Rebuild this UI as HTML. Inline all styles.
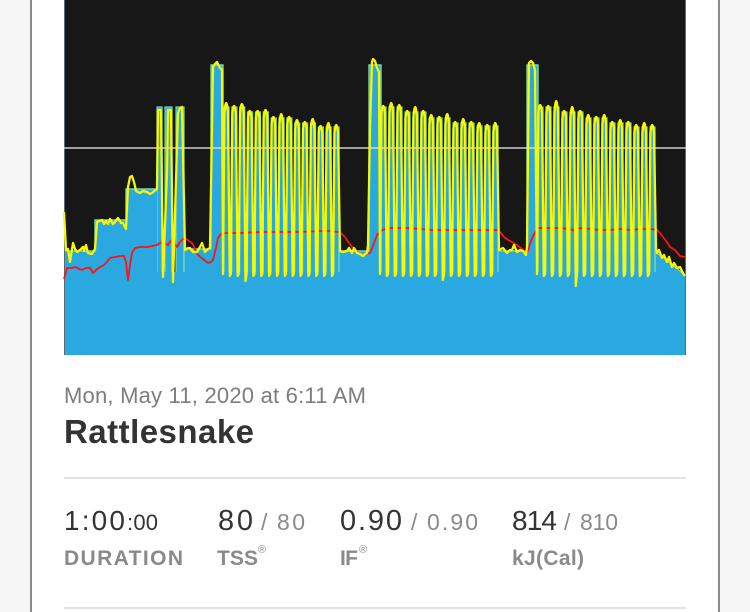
<!DOCTYPE html>
<html>
<head>
<meta charset="utf-8">
<style>
html,body{margin:0;padding:0;background:#f6f6f6;}
body{width:750px;height:612px;overflow:hidden;}
svg{display:block;}
text{font-family:"Liberation Sans",Arial,sans-serif;}
</style>
</head>
<body>
<svg width="750" height="612" viewBox="0 0 750 612" xmlns="http://www.w3.org/2000/svg">
<rect x="0" y="0" width="750" height="612" fill="#f6f6f6"/>
<rect x="32" y="0" width="686" height="612" fill="#ffffff"/>
<rect x="30" y="0" width="2" height="612" fill="#8a8a8a"/>
<rect x="718" y="0" width="2" height="612" fill="#8a8a8a"/>
<rect x="64" y="0" width="622" height="355" fill="#171717"/>
<g fill="#2aa8e0" stroke="#7ad6a6" stroke-width="1.2">
<rect x="157" y="107" width="5" height="178"/>
<rect x="165" y="107" width="7" height="178"/>
<rect x="176" y="107" width="8" height="178"/>
<rect x="224" y="107" width="5" height="178"/>
<rect x="231.86" y="107" width="5" height="178"/>
<rect x="239.72" y="107" width="5" height="178"/>
<rect x="247.58" y="112" width="5" height="173"/>
<rect x="255.44" y="112" width="5" height="173"/>
<rect x="263.3" y="112" width="5" height="173"/>
<rect x="271.16" y="118" width="5" height="167"/>
<rect x="279.02" y="118" width="5" height="167"/>
<rect x="286.88" y="118" width="5" height="167"/>
<rect x="294.74" y="123" width="5" height="162"/>
<rect x="302.6" y="123" width="5" height="162"/>
<rect x="310.46" y="123" width="5" height="162"/>
<rect x="318.32" y="127" width="5" height="158"/>
<rect x="326.18" y="127" width="5" height="158"/>
<rect x="334.04" y="127" width="5" height="158"/>
<rect x="381" y="107" width="5" height="178"/>
<rect x="389" y="107" width="5" height="178"/>
<rect x="397" y="107" width="5" height="178"/>
<rect x="405" y="112" width="5" height="173"/>
<rect x="413" y="112" width="5" height="173"/>
<rect x="421" y="112" width="5" height="173"/>
<rect x="429" y="118" width="5" height="167"/>
<rect x="437" y="118" width="5" height="167"/>
<rect x="445" y="118" width="5" height="167"/>
<rect x="453" y="123" width="5" height="162"/>
<rect x="461" y="123" width="5" height="162"/>
<rect x="469" y="123" width="5" height="162"/>
<rect x="477" y="126" width="5" height="159"/>
<rect x="485" y="126" width="5" height="159"/>
<rect x="493" y="126" width="5" height="159"/>
<rect x="538" y="107" width="5" height="178"/>
<rect x="546" y="107" width="5" height="178"/>
<rect x="554" y="107" width="5" height="178"/>
<rect x="562" y="112" width="5" height="173"/>
<rect x="570" y="112" width="5" height="173"/>
<rect x="578" y="112" width="5" height="173"/>
<rect x="586" y="118" width="5" height="167"/>
<rect x="594" y="118" width="5" height="167"/>
<rect x="602" y="118" width="5" height="167"/>
<rect x="610" y="123" width="5" height="162"/>
<rect x="618" y="123" width="5" height="162"/>
<rect x="626" y="123" width="5" height="162"/>
<rect x="634" y="127" width="5" height="158"/>
<rect x="642" y="127" width="5" height="158"/>
<rect x="650" y="127" width="5" height="158"/>
</g>
<path fill="#2aa8e0" d="M64,355 L64,251 L95,251 L95,220 L126,220 L126,189 L157,189 L157,272 L184,272 L184,249 L211,249 L211,65 L223,65 L223,272 L339,272 L339,251 L369,251 L369,65 L381,65 L381,272 L498,272 L498,251 L527,251 L527,65 L538,65 L538,272 L655,272 L655,252 L660,255 L665,259 L670,263 L675,267 L680,271 L686,277 L686,355 Z"/>
<path fill="none" stroke="#7ad6a6" stroke-width="1.4" d="M64,251 H95 V220 H126 V189 H157 M184,272 V249 H211 V65 H223 V272 M339,272 V251 H369 V65 H381 V272 M498,272 V251 H527 V65 H538 V272 M655,272 V252 L660,255 L665,259 L670,263 L675,267 L680,271 L686,277"/>
<line x1="64.5" y1="0" x2="64.5" y2="355" stroke="#5e6a70" stroke-width="1"/>
<line x1="685.5" y1="0" x2="685.5" y2="355" stroke="#5e6a70" stroke-width="1"/>
<line x1="64" y1="148" x2="686" y2="148" stroke="#e2e2e2" stroke-width="1.6" opacity="0.9"/>
<path fill="none" stroke="#ff1212" stroke-width="1.8" stroke-linejoin="round" d="M64,279 L67,268 L72,268 L76,267 L79,269 L82,270 L86,268 L90,268 L93,273 L97,269 L100,267 L104,265 L107,262 L110,258 L115,257 L120,256 L124,256 L126,262 L128,280 L130,265 L132,253 L135,248 L140,247 L147,247 L152,246 L157,245 L160,243 L163,242 L166,244 L168,245 L170,242 L172,240 L175,244 L177,247 L180,242 L183,239 L185,238 L189,241 L192,243 L195,249 L198,255 L203,259 L208,263 L211,262 L213,260 L216,248 L218,238 L221,234 L223,233 L240,233 L260,232 L280,232 L300,232 L320,231 L330,231 L339,232 L342,234 L345,237 L349,243 L353,248 L357,252 L362,255 L366,254 L370,253 L373,246 L377,235 L382,230 L386,229 L390,228 L410,228 L420,229 L430,230 L498,230 L501,233 L504,237 L508,240 L512,242 L517,245 L522,249 L527,253 L530,244 L533,236 L536,231 L538,228 L560,228 L570,229 L575,231 L578,228 L590,229 L600,230 L610,230 L620,229 L630,230 L640,229 L650,229 L657,230 L660,233 L663,237 L667,242 L670,247 L675,250 L680,256 L685,257"/>
<path fill="none" stroke="#f7f700" stroke-width="2.3" stroke-linejoin="round" d="M64,212 L66,250 L68,249 L70,262 L73,243 L75,249 L77,252 L80,250 L83,247 L84,251 L86,245 L88,253 L92,254 L95,249 L97,222 L102,220 L104,224 L106,221 L108,224 L110,219 L113,224 L115,222 L118,218 L121,223 L123,223 L126,229 L128,187 L130,177 L132,176 L134,182 L136,191 L140,193 L143,191 L147,192 L150,194 L152,193 L157,189 L158,110 L161,110 L163,277 L167,173 L168,110 L171,110 L173,282 L178,113 L180,108 L182,107 L185,250 L188,248 L190,248 L193,252 L197,252 L200,247 L202,243 L205,252 L208,249 L210,248 L213,67 L215,64 L217,62 L220,68 L222,70 L223,274 l1.4,-161 q1.8,-20 3.6,0 l1.8,163 l1.06,-2 l1.4,-161 q1.8,-14 3.6,0 l1.8,163 l1.06,-2 l1.4,-161 q1.8,-18 3.6,0 l1.8,168 l1.06,-7 l1.4,-156 q1.8,-14 3.6,0 l1.8,158 l1.06,-2 l1.4,-156 q1.8,-14 3.6,0 l1.8,158 l1.06,-2 l1.4,-156 q1.8,-16 3.6,0 l1.8,158 l1.06,-2 l1.4,-150 q1.8,-14 3.6,0 l1.8,152 l1.06,-2 l1.4,-150 q1.8,-20 3.6,0 l1.8,152 l1.06,-2 l1.4,-150 q1.8,-14 3.6,0 l1.8,152 l1.06,-2 l1.4,-145 q1.8,-18 3.6,0 l1.8,147 l1.06,-2 l1.4,-145 q1.8,-14 3.6,0 l1.8,147 l1.06,-2 l1.4,-145 q1.8,-20 3.6,0 l1.8,147 l1.06,-2 l1.4,-141 q1.8,-14 3.6,0 l1.8,143 l1.06,-2 l1.4,-141 q1.8,-20 3.6,0 l1.8,143 l1.06,-2 l1.4,-141 q1.8,-16 3.6,0 L340,251 L343,252 L347,251 L349,248 L352,253 L354,248 L357,253 L360,254 L363,256 L365,254 L367,253 L368,245 L370,127 L372,62 L373,59 L375,61 L377,68 L379,72 L380,274 l1.4,-161 q1.8,-14 3.6,0 l1.8,163 l1.2,-2 l1.4,-161 q1.8,-20 3.6,0 l1.8,163 l1.2,-2 l1.4,-161 q1.8,-16 3.6,0 l1.8,163 l1.2,-2 l1.4,-156 q1.8,-14 3.6,0 l1.8,158 l1.2,-2 l1.4,-156 q1.8,-22 3.6,0 l1.8,158 l1.2,-2 l1.4,-156 q1.8,-14 3.6,0 l1.8,158 l1.2,-2 l1.4,-150 q1.8,-18 3.6,0 l1.8,152 l1.2,-2 l1.4,-150 q1.8,-14 3.6,0 l1.8,156 l1.2,-6 l1.4,-150 q1.8,-20 3.6,0 l1.8,152 l1.2,-2 l1.4,-145 q1.8,-14 3.6,0 l1.8,147 l1.2,-2 l1.4,-145 q1.8,-20 3.6,0 l1.8,147 l1.2,-2 l1.4,-145 q1.8,-14 3.6,0 l1.8,147 l1.2,-2 l1.4,-142 q1.8,-18 3.6,0 l1.8,144 l1.2,-2 l1.4,-142 q1.8,-14 3.6,0 l1.8,144 l1.2,-2 l1.4,-142 q1.8,-18 3.6,0 L499,250 L503,248 L507,253 L510,250 L512,250 L514,245 L517,252 L520,250 L523,251 L526,255 L527,247 L529,63 L531,61 L533,63 L535,70 L537,274 l1.4,-161 q1.8,-16 3.6,0 l1.8,163 l1.2,-2 l1.4,-161 q1.8,-14 3.6,0 l1.8,163 l1.2,-2 l1.4,-161 q1.8,-24 3.6,0 l1.8,163 l1.2,-2 l1.4,-156 q1.8,-14 3.6,0 l1.8,158 l1.2,-2 l1.4,-156 q1.8,-22 3.6,0 l1.8,168 l1.2,-12 l1.4,-156 q1.8,-14 3.6,0 l1.8,158 l1.2,-2 l1.4,-150 q1.8,-18 3.6,0 l1.8,152 l1.2,-2 l1.4,-150 q1.8,-14 3.6,0 l1.8,152 l1.2,-2 l1.4,-150 q1.8,-18 3.6,0 l1.8,152 l1.2,-2 l1.4,-145 q1.8,-14 3.6,0 l1.8,147 l1.2,-2 l1.4,-145 q1.8,-18 3.6,0 l1.8,147 l1.2,-2 l1.4,-145 q1.8,-14 3.6,0 l1.8,147 l1.2,-2 l1.4,-141 q1.8,-16 3.6,0 l1.8,143 l1.2,-2 l1.4,-141 q1.8,-20 3.6,0 l1.8,143 l1.2,-2 l1.4,-141 q1.8,-16 3.6,0 L656,248 L657,253 L659,250 L662,258 L664,255 L667,262 L669,257 L672,267 L674,263 L677,268 L680,267 L683,273 L685,276"/>
<text x="64" y="403" font-size="22" fill="#7d7d7d" textLength="302" lengthAdjust="spacing">Mon, May 11, 2020 at 6:11 AM</text>
<text x="64" y="443" font-size="33" font-weight="bold" fill="#333333" textLength="190" lengthAdjust="spacing">Rattlesnake</text>
<rect x="64" y="477" width="622" height="2" fill="#e2e2e2"/>
<text x="64" y="530" font-size="28" fill="#333333" textLength="61" lengthAdjust="spacing">1:00</text>
<text x="127" y="530" font-size="22" fill="#333333" textLength="31" lengthAdjust="spacing">:00</text>
<text x="218" y="530" font-size="29" fill="#333333" textLength="35" lengthAdjust="spacing">80</text>
<text x="261" y="530" font-size="23" fill="#8a8a8a">/</text>
<text x="277" y="530" font-size="23" fill="#8a8a8a" textLength="28" lengthAdjust="spacing">80</text>
<text x="340" y="530" font-size="29" fill="#333333" textLength="62" lengthAdjust="spacing">0.90</text>
<text x="411" y="530" font-size="23" fill="#8a8a8a">/</text>
<text x="427" y="530" font-size="23" fill="#8a8a8a" textLength="51" lengthAdjust="spacing">0.90</text>
<text x="512" y="530" font-size="28" fill="#333333" textLength="45" lengthAdjust="spacing">814</text>
<text x="564" y="530" font-size="23" fill="#8a8a8a">/</text>
<text x="580" y="530" font-size="23" fill="#8a8a8a" textLength="38" lengthAdjust="spacing">810</text>
<text x="64" y="565" font-size="21" font-weight="bold" fill="#8a8a8a" textLength="119" lengthAdjust="spacing">DURATION</text>
<text x="217" y="565" font-size="21" font-weight="bold" fill="#8a8a8a" textLength="41" lengthAdjust="spacing">TSS</text>
<text x="258" y="553" font-size="11" fill="#8a8a8a">®</text>
<text x="340" y="565" font-size="21" font-weight="bold" fill="#8a8a8a" textLength="18" lengthAdjust="spacing">IF</text>
<text x="359" y="553" font-size="11" fill="#8a8a8a">®</text>
<text x="512" y="565" font-size="21" font-weight="bold" fill="#8a8a8a" textLength="72" lengthAdjust="spacing">kJ(Cal)</text>
<rect x="64" y="607" width="622" height="2" fill="#e2e2e2"/>
</svg>
</body>
</html>
